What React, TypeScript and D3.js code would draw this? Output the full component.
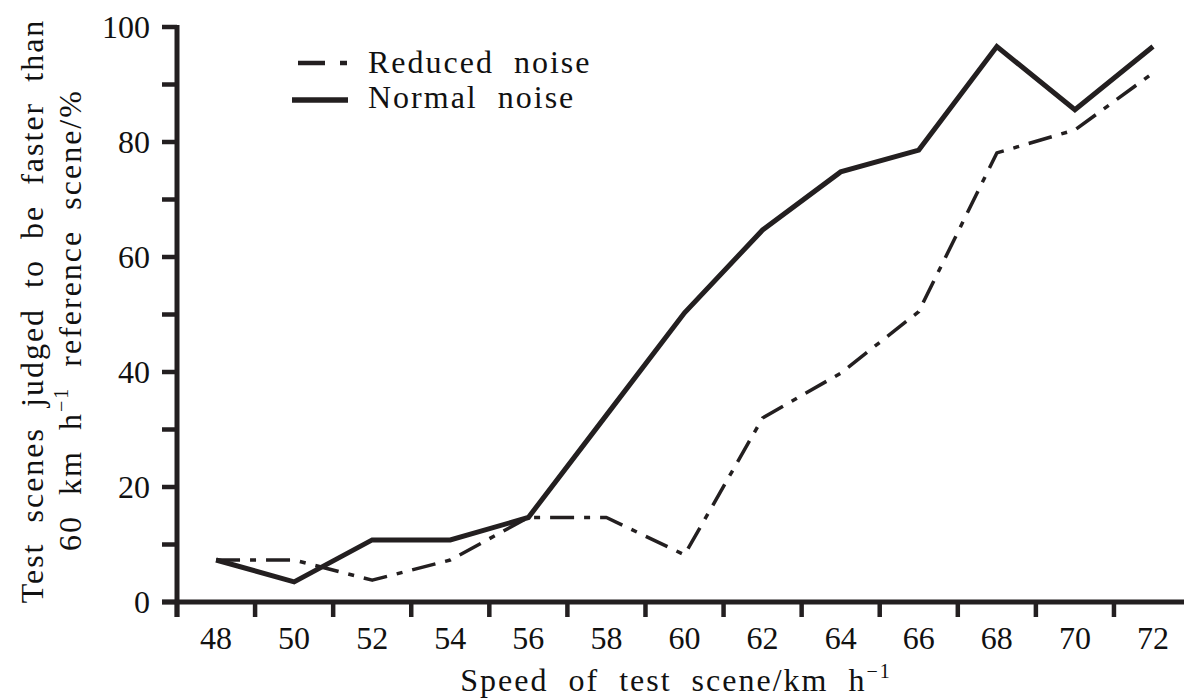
import React from "react";
import * as d3 from "d3";

const speeds = [48, 50, 52, 54, 56, 58, 60, 62, 64, 66, 68, 70, 72];
const normalNoise = [7.3, 3.5, 10.8, 10.8, 14.7, 32.5, 50.3, 64.7, 74.8, 78.6, 96.6, 85.6, 96.6];
const reducedNoise = [7.3, 7.3, 3.8, 7.3, 14.7, 14.7, 8.2, 32, 39.8, 50.5, 78.1, 82.1, 92];
const xTickLabels = [48, 50, 52, 54, 56, 58, 60, 62, 64, 66, 68, 70, 72];
const xTickMarks = [47, 49, 51, 53, 55, 57, 59, 61, 63, 65, 67, 69, 71];
const yTickLabels = [0, 20, 40, 60, 80, 100];
const yTickMarks = [0, 10, 20, 30, 40, 50, 60, 70, 80, 90, 100];
const seriesNames = ["Reduced noise", "Normal noise"];

const W = 1184;
const H = 699;
const INK = "#231f20";
const FONT = "Liberation Serif, Tinos, Times New Roman, DejaVu Serif, serif";

export default function App() {
  const x = d3.scaleLinear().domain([47, 72]).range([177, 1153]);
  const y = d3.scaleLinear().domain([0, 100]).range([602, 27]);
  const line = d3
    .line<[number, number]>()
    .x((d) => x(d[0]))
    .y((d) => y(d[1]));
  const normalPts = speeds.map((s, i) => [s, normalNoise[i]] as [number, number]);
  const reducedPts = speeds.map((s, i) => [s, reducedNoise[i]] as [number, number]);
  const dash = "24,10,6,10";
  const t = { fontFamily: FONT, fill: "#111", fontSize: 32 } as const;

  return (
    <svg
      width={W}
      height={H}
      fontFamily={FONT}
      style={{ position: "absolute", left: 0, top: 0, background: "#fff", fontFamily: FONT }}
    >
      {/* axes */}
      <line x1={x(47)} x2={x(47)} y1={y(100) - 2} y2={y(0) + 15} stroke={INK} strokeWidth={5} />
      <line x1={x(47) - 15} x2={W} y1={y(0)} y2={y(0)} stroke={INK} strokeWidth={5} />
      {yTickMarks.map((v) => (
        <line key={"yt" + v} x1={x(47) - 15} x2={x(47)} y1={y(v)} y2={y(v)} stroke={INK} strokeWidth={4.5} />
      ))}
      {xTickMarks.map((v) => (
        <line key={"xt" + v} x1={x(v)} x2={x(v)} y1={y(0)} y2={y(0) + 15} stroke={INK} strokeWidth={4.5} />
      ))}
      {yTickLabels.map((v) => (
        <text key={"yl" + v} x={150} y={y(v)} dy="0.35em" textAnchor="end" fontFamily={FONT} style={t}>
          {v}
        </text>
      ))}
      {xTickLabels.map((v) => (
        <text key={"xl" + v} x={x(v)} y={649} textAnchor="middle" fontFamily={FONT} style={t}>
          {v}
        </text>
      ))}

      {/* data lines */}
      <path d={line(reducedPts) || ""} fill="none" stroke={INK} strokeWidth={3.5} strokeDasharray={dash} strokeLinejoin="round" />
      <path d={line(normalPts) || ""} fill="none" stroke={INK} strokeWidth={5} strokeLinejoin="miter" />

      {/* legend */}
      <line x1={298} x2={347} y1={63} y2={63} stroke={INK} strokeWidth={4.5} strokeDasharray="27,15,7,20" />
      <line x1={292} x2={348} y1={100} y2={100} stroke={INK} strokeWidth={5.5} />
      <text x={368} y={73} letterSpacing={2} wordSpacing={10} fontFamily={FONT} style={t}>
        {seriesNames[0]}
      </text>
      <text x={368} y={108} letterSpacing={2} wordSpacing={10} fontFamily={FONT} style={t}>
        {seriesNames[1]}
      </text>

      {/* y axis title */}
      <text
        transform="translate(43,311) rotate(-90)"
        textAnchor="middle"
        letterSpacing={2}
        wordSpacing={10}
        fontFamily={FONT}
        style={t}
      >
        Test scenes judged to be faster than
      </text>
      <text
        transform="translate(81,320) rotate(-90)"
        textAnchor="middle"
        letterSpacing={2}
        wordSpacing={10}
        fontFamily={FONT}
        style={t}
      >
        60 km h
        <tspan fontSize={20} dy={-13} style={{ fontSize: 20 }}>−1</tspan>
        <tspan dy={13}> reference scene/%</tspan>
      </text>

      {/* x axis title */}
      <text x={676} y={691} textAnchor="middle" letterSpacing={2} wordSpacing={10} fontFamily={FONT} style={t}>
        Speed of test scene/km h
        <tspan fontSize={20} dy={-13} style={{ fontSize: 20 }}>−1</tspan>
      </text>
    </svg>
  );
}
